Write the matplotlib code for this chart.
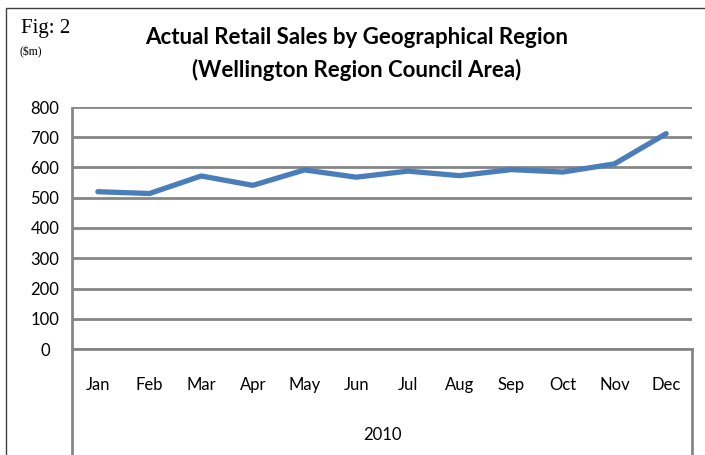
import matplotlib.pyplot as plt
from matplotlib.lines import Line2D
from matplotlib.patches import Rectangle

months = ['Jan', 'Feb', 'Mar', 'Apr', 'May', 'Jun', 'Jul', 'Aug', 'Sep', 'Oct', 'Nov', 'Dec']
sales = [520, 514, 572, 541, 592, 568, 588, 573, 593, 585, 612, 712]
year_label = '2010'
y_ticks = [0, 100, 200, 300, 400, 500, 600, 700, 800]

W, H = 705, 455
grid_col = '#868686'
line_col = '#4a7ebb'

fig = plt.figure(figsize=(W / 100, H / 100), dpi=100)
fig.patch.set_facecolor('white')

# outer frame of the figure box (top and left visible, rest runs off the image)
fig.add_artist(Rectangle((6 / W, -0.1), 1.2, 1 - 8 / H + 0.1, transform=fig.transFigure,
                         fill=False, edgecolor='#404040', linewidth=1.0))

ax_l, ax_r, ax_t, ax_b = 72, 692, 107, 349
ax = fig.add_axes([ax_l / W, 1 - ax_b / H, (ax_r - ax_l) / W, (ax_b - ax_t) / H])

x = list(range(len(months)))
ax.plot(x, sales, color=line_col, linewidth=3.8, solid_capstyle='round', zorder=3)

ax.set_xlim(-0.5, len(months) - 0.5)
ax.set_ylim(0, 800)
ax.set_yticks(y_ticks)
ax.set_xticks(x)
ax.set_xticklabels(months)
ax.yaxis.grid(True, color=grid_col, linewidth=2.0)
ax.set_axisbelow(True)
for s in ['top', 'right', 'left', 'bottom']:
    ax.spines[s].set_visible(False)

ax.tick_params(axis='both', length=0, labelsize=12, labelcolor='black')
ax.tick_params(axis='x', pad=20)
ax.tick_params(axis='y', pad=27 * 0.72)
for lbl in ax.get_yticklabels():
    lbl.set_fontfamily('Lato')
    lbl.set_ha('center')
for lbl in ax.get_xticklabels():
    lbl.set_fontfamily('Lato')

# axis lines, including the category bracket below the zero line
fig.add_artist(Line2D([ax_l / W, ax_l / W], [1 - ax_t / H - 0.002, 0], color=grid_col,
                      linewidth=2.0, transform=fig.transFigure))
fig.add_artist(Line2D([ax_r / W, ax_r / W], [1 - ax_b / H, 0], color=grid_col,
                      linewidth=2.0, transform=fig.transFigure))
fig.add_artist(Line2D([ax_l / W, ax_r / W], [1 - ax_b / H, 1 - ax_b / H], color=grid_col,
                      linewidth=2.0, transform=fig.transFigure))

fig.text((ax_l + ax_r) / 2 / W, 1 - 435 / H, year_label, ha='center', va='center',
         fontsize=12, family='Lato')

fig.text(357 / W, 1 - 37 / H, 'Actual Retail Sales by Geographical Region', ha='center',
         va='center', fontsize=16, fontweight='bold', family='Lato')
fig.text(357 / W, 1 - 70 / H, '(Wellington Region Council Area)', ha='center',
         va='center', fontsize=16, fontweight='bold', family='Lato')

fig.text(21 / W, 1 - 28 / H, 'Fig: 2', ha='left', va='center', fontsize=15,
         family='Liberation Serif')
fig.text(20 / W, 1 - 52 / H, '($m)', ha='left', va='center', fontsize=8.5,
         family='Liberation Serif')

fig.savefig('out.png', dpi=100)
